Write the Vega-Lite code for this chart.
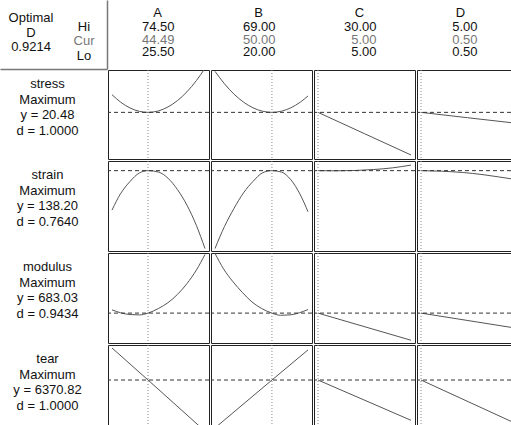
{
  "$schema": "https://vega.github.io/schema/vega-lite/v6.json",
  "padding": 0,
  "background": "white",
  "spacing": 0,
  "config": {"view": {"stroke": null}, "font": "Liberation Sans", "concat": {"spacing": 0}, "facet": {"spacing": 0}},
  "datasets": {
    "hdr_left": [
      {"part": "opt", "line": "Optimal", "text": "Optimal"},
      {"part": "opt", "line": "D", "text": "D"},
      {"part": "opt", "line": "value", "text": "0.9214"},
      {"part": "lab", "line": "Hi", "text": "Hi"},
      {"part": "lab", "line": "Cur", "text": "Cur"},
      {"part": "lab", "line": "Lo", "text": "Lo"}
    ],
    "hdr": [
      {"factor": "A", "line": "name", "text": "A"},
      {"factor": "A", "line": "Hi", "text": "74.50"},
      {"factor": "A", "line": "Cur", "text": "44.49"},
      {"factor": "A", "line": "Lo", "text": "25.50"},
      {"factor": "B", "line": "name", "text": "B"},
      {"factor": "B", "line": "Hi", "text": "69.00"},
      {"factor": "B", "line": "Cur", "text": "50.00"},
      {"factor": "B", "line": "Lo", "text": "20.00"},
      {"factor": "C", "line": "name", "text": "C"},
      {"factor": "C", "line": "Hi", "text": "30.00"},
      {"factor": "C", "line": "Cur", "text": "5.00"},
      {"factor": "C", "line": "Lo", "text": "5.00"},
      {"factor": "D", "line": "name", "text": "D"},
      {"factor": "D", "line": "Hi", "text": "5.00"},
      {"factor": "D", "line": "Cur", "text": "0.50"},
      {"factor": "D", "line": "Lo", "text": "0.50"}
    ],
    "labels": [
      {"response": "stress", "line": "name", "text": "stress"},
      {"response": "stress", "line": "goal", "text": "Maximum"},
      {"response": "stress", "line": "y", "text": "y = 20.48"},
      {"response": "stress", "line": "d", "text": "d = 1.0000"},
      {"response": "strain", "line": "name", "text": "strain"},
      {"response": "strain", "line": "goal", "text": "Maximum"},
      {"response": "strain", "line": "y", "text": "y = 138.20"},
      {"response": "strain", "line": "d", "text": "d = 0.7640"},
      {"response": "modulus", "line": "name", "text": "modulus"},
      {"response": "modulus", "line": "goal", "text": "Maximum"},
      {"response": "modulus", "line": "y", "text": "y = 683.03"},
      {"response": "modulus", "line": "d", "text": "d = 0.9434"},
      {"response": "tear", "line": "name", "text": "tear"},
      {"response": "tear", "line": "goal", "text": "Maximum"},
      {"response": "tear", "line": "y", "text": "y = 6370.82"},
      {"response": "tear", "line": "d", "text": "d = 1.0000"}
    ],
    "plot": [
      {"response": "stress", "factor": "A", "setting": 25.5, "value": 24.45},
      {"response": "stress", "factor": "A", "setting": 30, "value": 22.79},
      {"response": "stress", "factor": "A", "setting": 35, "value": 21.47},
      {"response": "stress", "factor": "A", "setting": 40, "value": 20.70},
      {"response": "stress", "factor": "A", "setting": 44.49, "value": 20.48},
      {"response": "stress", "factor": "A", "setting": 50, "value": 20.81},
      {"response": "stress", "factor": "A", "setting": 55, "value": 21.70},
      {"response": "stress", "factor": "A", "setting": 60, "value": 23.13},
      {"response": "stress", "factor": "A", "setting": 65, "value": 25.11},
      {"response": "stress", "factor": "A", "setting": 70, "value": 27.64},
      {"response": "stress", "factor": "A", "setting": 74.5, "value": 30.39},
      {"response": "stress", "factor": "B", "setting": 20, "value": 29.70},
      {"response": "stress", "factor": "B", "setting": 25, "value": 26.89},
      {"response": "stress", "factor": "B", "setting": 30, "value": 24.58},
      {"response": "stress", "factor": "B", "setting": 35, "value": 22.79},
      {"response": "stress", "factor": "B", "setting": 40, "value": 21.51},
      {"response": "stress", "factor": "B", "setting": 45, "value": 20.74},
      {"response": "stress", "factor": "B", "setting": 50, "value": 20.48},
      {"response": "stress", "factor": "B", "setting": 55, "value": 20.74},
      {"response": "stress", "factor": "B", "setting": 60, "value": 21.51},
      {"response": "stress", "factor": "B", "setting": 65, "value": 22.79},
      {"response": "stress", "factor": "B", "setting": 69, "value": 24.18},
      {"response": "stress", "factor": "C", "setting": 5, "value": 20.48},
      {"response": "stress", "factor": "C", "setting": 17.5, "value": 15.69},
      {"response": "stress", "factor": "C", "setting": 30, "value": 10.9},
      {"response": "stress", "factor": "D", "setting": 0.5, "value": 20.48},
      {"response": "stress", "factor": "D", "setting": 2.75, "value": 19.28},
      {"response": "stress", "factor": "D", "setting": 5, "value": 18.09},
      {"response": "strain", "factor": "A", "setting": 25.5, "value": 90},
      {"response": "strain", "factor": "A", "setting": 30, "value": 110},
      {"response": "strain", "factor": "A", "setting": 35, "value": 125},
      {"response": "strain", "factor": "A", "setting": 40, "value": 135.5},
      {"response": "strain", "factor": "A", "setting": 44.49, "value": 138.2},
      {"response": "strain", "factor": "A", "setting": 50, "value": 136.5},
      {"response": "strain", "factor": "A", "setting": 55, "value": 129},
      {"response": "strain", "factor": "A", "setting": 60, "value": 115},
      {"response": "strain", "factor": "A", "setting": 65, "value": 96},
      {"response": "strain", "factor": "A", "setting": 70, "value": 71},
      {"response": "strain", "factor": "A", "setting": 74.5, "value": 43},
      {"response": "strain", "factor": "B", "setting": 20, "value": 43},
      {"response": "strain", "factor": "B", "setting": 25, "value": 70},
      {"response": "strain", "factor": "B", "setting": 30, "value": 92},
      {"response": "strain", "factor": "B", "setting": 35, "value": 111},
      {"response": "strain", "factor": "B", "setting": 40, "value": 125},
      {"response": "strain", "factor": "B", "setting": 45, "value": 135.5},
      {"response": "strain", "factor": "B", "setting": 50, "value": 138.2},
      {"response": "strain", "factor": "B", "setting": 55, "value": 136.5},
      {"response": "strain", "factor": "B", "setting": 60, "value": 127},
      {"response": "strain", "factor": "B", "setting": 65, "value": 108.5},
      {"response": "strain", "factor": "B", "setting": 69, "value": 88},
      {"response": "strain", "factor": "C", "setting": 5, "value": 138.2},
      {"response": "strain", "factor": "C", "setting": 10, "value": 138.0},
      {"response": "strain", "factor": "C", "setting": 15, "value": 138.4},
      {"response": "strain", "factor": "C", "setting": 20, "value": 139.6},
      {"response": "strain", "factor": "C", "setting": 25, "value": 141.6},
      {"response": "strain", "factor": "C", "setting": 30, "value": 145.0},
      {"response": "strain", "factor": "D", "setting": 0.5, "value": 138.2},
      {"response": "strain", "factor": "D", "setting": 1.5, "value": 137.5},
      {"response": "strain", "factor": "D", "setting": 2.5, "value": 136.0},
      {"response": "strain", "factor": "D", "setting": 3.5, "value": 133.3},
      {"response": "strain", "factor": "D", "setting": 4.25, "value": 130.6},
      {"response": "strain", "factor": "D", "setting": 5, "value": 127.7},
      {"response": "modulus", "factor": "A", "setting": 25.5, "value": 692},
      {"response": "modulus", "factor": "A", "setting": 30, "value": 684},
      {"response": "modulus", "factor": "A", "setting": 35, "value": 679},
      {"response": "modulus", "factor": "A", "setting": 40, "value": 678},
      {"response": "modulus", "factor": "A", "setting": 44.49, "value": 683.03},
      {"response": "modulus", "factor": "A", "setting": 50, "value": 696},
      {"response": "modulus", "factor": "A", "setting": 55, "value": 712},
      {"response": "modulus", "factor": "A", "setting": 60, "value": 735},
      {"response": "modulus", "factor": "A", "setting": 65, "value": 765},
      {"response": "modulus", "factor": "A", "setting": 70, "value": 803},
      {"response": "modulus", "factor": "A", "setting": 74.5, "value": 846},
      {"response": "modulus", "factor": "B", "setting": 20, "value": 849},
      {"response": "modulus", "factor": "B", "setting": 24.5, "value": 806},
      {"response": "modulus", "factor": "B", "setting": 29.5, "value": 770},
      {"response": "modulus", "factor": "B", "setting": 34.5, "value": 740},
      {"response": "modulus", "factor": "B", "setting": 39.5, "value": 714},
      {"response": "modulus", "factor": "B", "setting": 44.5, "value": 696},
      {"response": "modulus", "factor": "B", "setting": 50, "value": 683.03},
      {"response": "modulus", "factor": "B", "setting": 54.5, "value": 677},
      {"response": "modulus", "factor": "B", "setting": 59.5, "value": 678},
      {"response": "modulus", "factor": "B", "setting": 64.5, "value": 684},
      {"response": "modulus", "factor": "B", "setting": 69, "value": 693},
      {"response": "modulus", "factor": "C", "setting": 5, "value": 683.03},
      {"response": "modulus", "factor": "C", "setting": 30, "value": 607.6},
      {"response": "modulus", "factor": "D", "setting": 0.5, "value": 683.03},
      {"response": "modulus", "factor": "D", "setting": 5, "value": 642.1},
      {"response": "tear", "factor": "A", "setting": 25.5, "value": 6960},
      {"response": "tear", "factor": "A", "setting": 44.49, "value": 6370.82},
      {"response": "tear", "factor": "A", "setting": 74.5, "value": 5430},
      {"response": "tear", "factor": "B", "setting": 20, "value": 5490},
      {"response": "tear", "factor": "B", "setting": 50, "value": 6370.82},
      {"response": "tear", "factor": "B", "setting": 69, "value": 6925},
      {"response": "tear", "factor": "C", "setting": 5, "value": 6370.82},
      {"response": "tear", "factor": "C", "setting": 30, "value": 5630},
      {"response": "tear", "factor": "D", "setting": 0.5, "value": 6370.82},
      {"response": "tear", "factor": "D", "setting": 5, "value": 5586},
      {"response": "stress", "factor": "A", "cur_setting": 44.49, "cur_value": 20.48},
      {"response": "stress", "factor": "B", "cur_setting": 50, "cur_value": 20.48},
      {"response": "stress", "factor": "C", "cur_setting": 5, "cur_value": 20.48},
      {"response": "stress", "factor": "D", "cur_setting": 0.5, "cur_value": 20.48},
      {"response": "strain", "factor": "A", "cur_setting": 44.49, "cur_value": 138.2},
      {"response": "strain", "factor": "B", "cur_setting": 50, "cur_value": 138.2},
      {"response": "strain", "factor": "C", "cur_setting": 5, "cur_value": 138.2},
      {"response": "strain", "factor": "D", "cur_setting": 0.5, "cur_value": 138.2},
      {"response": "modulus", "factor": "A", "cur_setting": 44.49, "cur_value": 683.03},
      {"response": "modulus", "factor": "B", "cur_setting": 50, "cur_value": 683.03},
      {"response": "modulus", "factor": "C", "cur_setting": 5, "cur_value": 683.03},
      {"response": "modulus", "factor": "D", "cur_setting": 0.5, "cur_value": 683.03},
      {"response": "tear", "factor": "A", "cur_setting": 44.49, "cur_value": 6370.82},
      {"response": "tear", "factor": "B", "cur_setting": 50, "cur_value": 6370.82},
      {"response": "tear", "factor": "C", "cur_setting": 5, "cur_value": 6370.82},
      {"response": "tear", "factor": "D", "cur_setting": 0.5, "cur_value": 6370.82}
    ]
  },
  "vconcat": [
    {
      "spacing": 0,
      "hconcat": [
        {
          "width": 107, "height": 69,
          "data": {"name": "hdr_left"},
          "resolve": {"scale": {"y": "independent"}},
          "encoding": {"x": {"field": "part", "type": "nominal", "scale": {"type": "point", "domain": ["opt", "lab"], "padding": 0.51, "align": 0.574},
            "axis": {"orient": "bottom", "labels": false, "ticks": false, "title": null, "grid": false, "domainColor": "#777", "domainWidth": 1.5}}},
          "layer": [
            {"transform": [{"filter": "datum.part === 'opt'"}],
             "mark": {"type": "text", "fontSize": 13, "color": "#111"},
             "encoding": {"y": {"field": "line", "type": "ordinal", "scale": {"type": "point", "domain": ["Optimal", "D", "value"], "range": [18, 47], "padding": 0}, "axis": null}, "text": {"field": "text"}}},
            {"transform": [{"filter": "datum.part === 'lab'"}],
             "mark": {"type": "text", "fontSize": 13},
             "encoding": {"y": {"field": "line", "type": "ordinal", "scale": {"type": "point", "domain": ["name", "Hi", "Cur", "Lo"], "padding": 0.854, "align": 0.478},
               "axis": {"orient": "right", "labels": false, "ticks": false, "title": null, "grid": false, "domainColor": "#777", "domainWidth": 1.5}}, "text": {"field": "text"},
               "color": {"field": "line", "type": "nominal", "scale": {"domain": ["Hi", "Cur", "Lo"], "range": ["#111", "#777", "#111"]}, "legend": null}}}
          ]
        },
        {
          "data": {"name": "hdr"},
          "facet": {"column": {"field": "factor", "type": "nominal", "header": null}},
          "spacing": 0,
          "spec": {
            "width": 101, "height": 69,
            "layer": [
              {"transform": [{"filter": "datum.line === 'name'"}],
               "mark": {"type": "text", "fontSize": 13, "color": "#111", "dy": -2},
               "encoding": {"y": {"field": "line", "type": "ordinal", "scale": {"type": "point", "domain": ["name", "Hi", "Cur", "Lo"], "range": [15, 52], "padding": 0}, "axis": null}, "text": {"field": "text"}}},
              {"transform": [{"filter": "datum.line !== 'name'"}],
               "mark": {"type": "text", "fontSize": 13, "align": "right", "dx": 17},
               "encoding": {"y": {"field": "line", "type": "ordinal", "scale": {"type": "point", "domain": ["name", "Hi", "Cur", "Lo"], "range": [15, 52], "padding": 0}, "axis": null}, "text": {"field": "text"},
                 "color": {"field": "line", "type": "nominal", "scale": {"domain": ["Hi", "Cur", "Lo"], "range": ["#111", "#777", "#111"]}, "legend": null}}}
            ]
          }
        }
      ]
    },
    {
      "spacing": 0,
      "hconcat": [
        {"width": 107, "height": 89, "data": {"name": "labels"}, "transform": [{"filter": "datum.response === 'stress'"}],
         "mark": {"type": "text", "dx": -6, "fontSize": 13, "color": "#111"},
         "encoding": {"y": {"field": "line", "type": "ordinal", "scale": {"type": "point", "domain": ["name", "goal", "y", "d"], "range": [14, 61], "padding": 0}, "axis": null}, "text": {"field": "text"}}},
        {"data": {"name": "plot"}, "transform": [{"filter": "datum.response === 'stress'"}],
         "facet": {"column": {"field": "factor", "type": "nominal", "header": null}},
         "spacing": 0, "resolve": {"scale": {"x": "independent"}},
         "spec": {"width": 101, "height": 89, "view": {"stroke": "#222"},
           "layer": [
             {"transform": [{"filter": "datum.value != null"}], "mark": {"type": "line", "color": "#555", "strokeWidth": 1, "clip": true, "interpolate": "monotone"},
              "encoding": {"x": {"field": "setting", "type": "quantitative", "scale": {"zero": false, "nice": false, "padding": 4}, "axis": null},
                           "y": {"field": "value", "type": "quantitative", "scale": {"domain": [10, 30], "zero": false, "nice": false}, "axis": null}}},
             {"transform": [{"filter": "datum.cur_setting != null"}], "mark": {"type": "rule", "color": "#888", "strokeDash": [1, 2]},
              "encoding": {"x": {"field": "cur_setting", "type": "quantitative", "scale": {"zero": false, "nice": false, "padding": 4}, "axis": null}}},
             {"transform": [{"filter": "datum.cur_value != null"}], "mark": {"type": "rule", "color": "#333", "strokeDash": [4, 3]},
              "encoding": {"y": {"field": "cur_value", "type": "quantitative", "scale": {"domain": [10, 30], "zero": false, "nice": false}, "axis": null}}}
           ]}}
      ]
    },
    {
      "spacing": 0,
      "hconcat": [
        {"width": 107, "height": 90, "data": {"name": "labels"}, "transform": [{"filter": "datum.response === 'strain'"}],
         "mark": {"type": "text", "dx": -6, "fontSize": 13, "color": "#111"},
         "encoding": {"y": {"field": "line", "type": "ordinal", "scale": {"type": "point", "domain": ["name", "goal", "y", "d"], "range": [14, 61], "padding": 0}, "axis": null}, "text": {"field": "text"}}},
        {"data": {"name": "plot"}, "transform": [{"filter": "datum.response === 'strain'"}],
         "facet": {"column": {"field": "factor", "type": "nominal", "header": null}},
         "spacing": 0, "resolve": {"scale": {"x": "independent"}},
         "spec": {"width": 101, "height": 90, "view": {"stroke": "#222"},
           "layer": [
             {"transform": [{"filter": "datum.value != null"}], "mark": {"type": "line", "color": "#555", "strokeWidth": 1, "clip": true, "interpolate": "monotone"},
              "encoding": {"x": {"field": "setting", "type": "quantitative", "scale": {"zero": false, "nice": false, "padding": 4}, "axis": null},
                           "y": {"field": "value", "type": "quantitative", "scale": {"domain": [40, 150], "zero": false, "nice": false}, "axis": null}}},
             {"transform": [{"filter": "datum.cur_setting != null"}], "mark": {"type": "rule", "color": "#888", "strokeDash": [1, 2]},
              "encoding": {"x": {"field": "cur_setting", "type": "quantitative", "scale": {"zero": false, "nice": false, "padding": 4}, "axis": null}}},
             {"transform": [{"filter": "datum.cur_value != null"}], "mark": {"type": "rule", "color": "#333", "strokeDash": [4, 3]},
              "encoding": {"y": {"field": "cur_value", "type": "quantitative", "scale": {"domain": [40, 150], "zero": false, "nice": false}, "axis": null}}}
           ]}}
      ]
    },
    {
      "spacing": 0,
      "hconcat": [
        {"width": 107, "height": 90, "data": {"name": "labels"}, "transform": [{"filter": "datum.response === 'modulus'"}],
         "mark": {"type": "text", "dx": -6, "fontSize": 13, "color": "#111"},
         "encoding": {"y": {"field": "line", "type": "ordinal", "scale": {"type": "point", "domain": ["name", "goal", "y", "d"], "range": [14, 61], "padding": 0}, "axis": null}, "text": {"field": "text"}}},
        {"data": {"name": "plot"}, "transform": [{"filter": "datum.response === 'modulus'"}],
         "facet": {"column": {"field": "factor", "type": "nominal", "header": null}},
         "spacing": 0, "resolve": {"scale": {"x": "independent"}},
         "spec": {"width": 101, "height": 90, "view": {"stroke": "#222"},
           "layer": [
             {"transform": [{"filter": "datum.value != null"}], "mark": {"type": "line", "color": "#555", "strokeWidth": 1, "clip": true, "interpolate": "monotone"},
              "encoding": {"x": {"field": "setting", "type": "quantitative", "scale": {"zero": false, "nice": false, "padding": 4}, "axis": null},
                           "y": {"field": "value", "type": "quantitative", "scale": {"domain": [600, 850], "zero": false, "nice": false}, "axis": null}}},
             {"transform": [{"filter": "datum.cur_setting != null"}], "mark": {"type": "rule", "color": "#888", "strokeDash": [1, 2]},
              "encoding": {"x": {"field": "cur_setting", "type": "quantitative", "scale": {"zero": false, "nice": false, "padding": 4}, "axis": null}}},
             {"transform": [{"filter": "datum.cur_value != null"}], "mark": {"type": "rule", "color": "#333", "strokeDash": [4, 3]},
              "encoding": {"y": {"field": "cur_value", "type": "quantitative", "scale": {"domain": [600, 850], "zero": false, "nice": false}, "axis": null}}}
           ]}}
      ]
    },
    {
      "spacing": 0,
      "hconcat": [
        {"width": 107, "height": 87, "data": {"name": "labels"}, "transform": [{"filter": "datum.response === 'tear'"}],
         "mark": {"type": "text", "dx": -6, "fontSize": 13, "color": "#111"},
         "encoding": {"y": {"field": "line", "type": "ordinal", "scale": {"type": "point", "domain": ["name", "goal", "y", "d"], "range": [14, 61], "padding": 0}, "axis": null}, "text": {"field": "text"}}},
        {"data": {"name": "plot"}, "transform": [{"filter": "datum.response === 'tear'"}],
         "facet": {"column": {"field": "factor", "type": "nominal", "header": null}},
         "spacing": 0, "resolve": {"scale": {"x": "independent"}},
         "spec": {"width": 101, "height": 87, "view": {"stroke": "#222"},
           "layer": [
             {"transform": [{"filter": "datum.value != null"}], "mark": {"type": "line", "color": "#555", "strokeWidth": 1, "clip": true, "interpolate": "monotone"},
              "encoding": {"x": {"field": "setting", "type": "quantitative", "scale": {"zero": false, "nice": false, "padding": 4}, "axis": null},
                           "y": {"field": "value", "type": "quantitative", "scale": {"domain": [5415, 7015], "zero": false, "nice": false}, "axis": null}}},
             {"transform": [{"filter": "datum.cur_setting != null"}], "mark": {"type": "rule", "color": "#888", "strokeDash": [1, 2]},
              "encoding": {"x": {"field": "cur_setting", "type": "quantitative", "scale": {"zero": false, "nice": false, "padding": 4}, "axis": null}}},
             {"transform": [{"filter": "datum.cur_value != null"}], "mark": {"type": "rule", "color": "#333", "strokeDash": [4, 3]},
              "encoding": {"y": {"field": "cur_value", "type": "quantitative", "scale": {"domain": [5415, 7015], "zero": false, "nice": false}, "axis": null}}}
           ]}}
      ]
    }
  ]
}
